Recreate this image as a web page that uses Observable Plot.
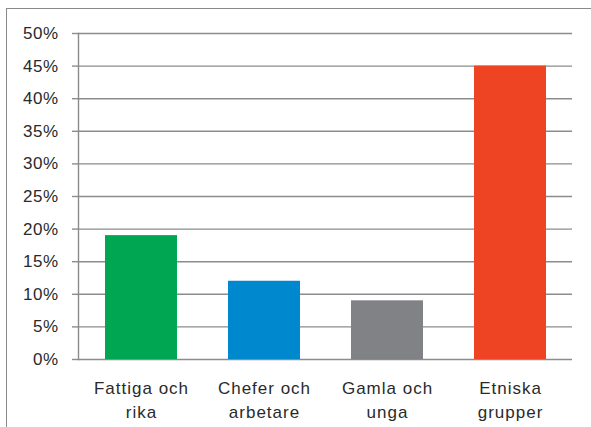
<!DOCTYPE html>
<html>
<head>
<meta charset="utf-8">
<script src="https://cdn.jsdelivr.net/npm/d3@7"></script>
<script src="https://cdn.jsdelivr.net/npm/@observablehq/plot@0.6"></script>
<style>
  html, body { margin: 0; padding: 0; background: #fff; }
  #wrap { position: relative; width: 591px; height: 427px; overflow: hidden; }
  #border { position: absolute; left: 6px; top: 8px; width: 700px; height: 600px;
            border-left: 1px solid #8a8a8a; border-top: 1px solid #8a8a8a; }
  #chart { position: absolute; left: 0; top: 0; }
  #chart g[aria-label="y-axis tick label"] text { letter-spacing: 0.5px; }
  #chart g[aria-label="x-axis tick label"] text { letter-spacing: 1px; }
</style>
</head>
<body>
<div id="wrap"><div id="border"></div><div id="chart"></div></div>
<script>
const categories = ["Fattiga och\nrika", "Chefer och\narbetare", "Gamla och\nunga", "Etniska\ngrupper"];
const values = [19, 12, 9, 45];
const colors = ["#00a651", "#0088cf", "#808285", "#ef4423"];
const yTicks = [0, 5, 10, 15, 20, 25, 30, 35, 40, 45, 50];

const data = categories.map((c, i) => ({cat: c, value: values[i], color: colors[i]}));

const chart = Plot.plot({
  width: 591,
  height: 427,
  marginLeft: 78,
  marginRight: 19,
  marginTop: 33,
  marginBottom: 68,
  style: {fontFamily: "'Liberation Sans', Arial, sans-serif", fontSize: "17px", color: "#2a2a2a", background: "transparent"},
  x: {domain: categories, paddingInner: 0.415, paddingOuter: 0.2, label: null},
  y: {domain: [0, 50], label: null},
  marks: [
    Plot.gridY(yTicks, {stroke: "#8c8c8c", strokeOpacity: 1, strokeWidth: 1.4}),
    Plot.barY(data, {x: "cat", y: "value", fill: "color"}),
    Plot.axisY(yTicks, {tickSize: 6, tickPadding: 14, tickFormat: d => d + "%", stroke: "#8c8c8c", strokeWidth: 1.4, fill: "#2a2a2a", fontSize: 17, label: null}),
    Plot.frame({anchor: "left", stroke: "#8c8c8c", strokeWidth: 1.4}),
    Plot.axisX({tickSize: 0, tickPadding: 18, fontSize: 17, fill: "#2a2a2a", lineHeight: 1.38, lineAnchor: "top", label: null})
  ]
});
document.getElementById("chart").appendChild(chart);
</script>
</body>
</html>
